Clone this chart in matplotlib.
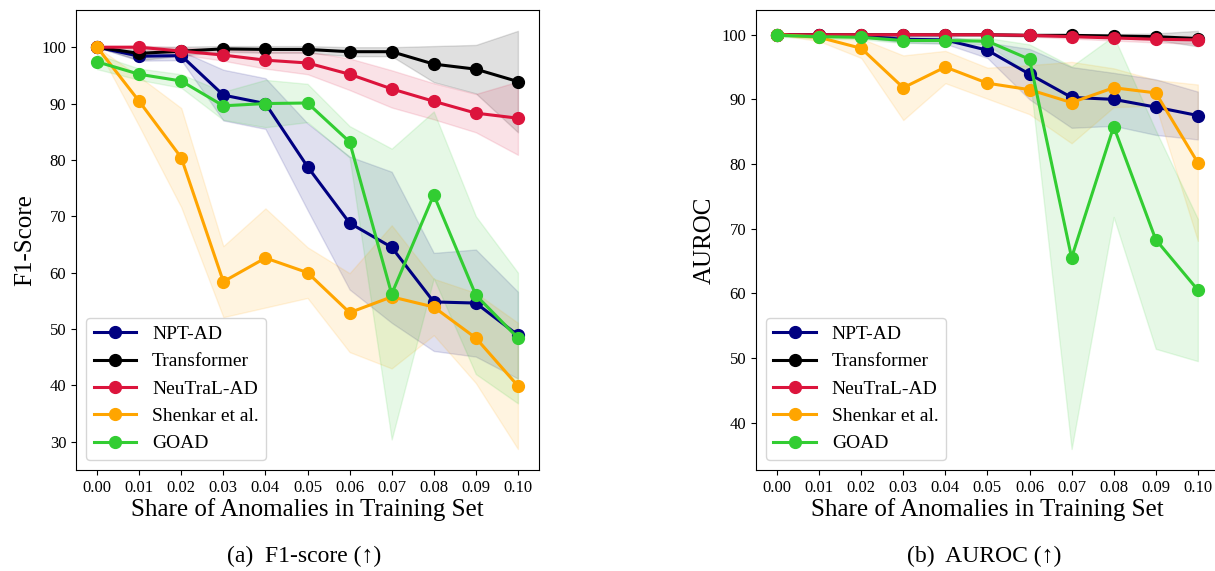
import numpy as np
import matplotlib
matplotlib.use("Agg")
import matplotlib.pyplot as plt

plt.rcParams['font.family'] = ['Liberation Serif', 'DejaVu Serif']

share = [0.00, 0.01, 0.02, 0.03, 0.04, 0.05, 0.06, 0.07, 0.08, 0.09, 0.10]
tick_labels = ["0.00", "0.01", "0.02", "0.03", "0.04", "0.05", "0.06", "0.07", "0.08", "0.09", "0.10"]
methods = ["NPT-AD", "Transformer", "NeuTraL-AD", "Shenkar et al.", "GOAD"]
colors = ["navy", "black", "crimson", "orange", "limegreen"]

# F1-score (mean, std)
npt_f1 = [100.0, 98.4, 98.5, 91.5, 90.0, 78.8, 68.8, 64.5, 54.8, 54.6, 48.9]
npt_f1_std = [0.0, 0.8, 0.8, 4.5, 4.5, 7.7, 11.8, 13.4, 8.7, 9.5, 7.7]
trf_f1 = [100.0, 98.9, 99.3, 99.7, 99.6, 99.6, 99.2, 99.2, 97.0, 96.1, 93.9]
trf_f1_std = [0.0, 1.2, 0.8, 0.5, 0.6, 0.6, 0.8, 0.8, 3.2, 4.3, 9.0]
neu_f1 = [100.0, 100.0, 99.3, 98.6, 97.7, 97.2, 95.2, 92.6, 90.4, 88.3, 87.4]
neu_f1_std = [0.0, 0.3, 0.6, 1.0, 1.5, 2.0, 2.8, 3.3, 3.2, 3.4, 6.5]
shk_f1 = [100.0, 90.4, 80.4, 58.4, 62.6, 60.0, 52.9, 55.7, 53.9, 48.4, 39.9]
shk_f1_std = [0.0, 4.4, 8.8, 6.3, 8.8, 4.5, 7.0, 12.7, 5.0, 8.0, 11.2]
goad_f1 = [97.4, 95.2, 94.0, 89.6, 90.0, 90.1, 83.2, 56.2, 73.8, 56.0, 48.4]
goad_f1_std = [1.3, 1.0, 1.2, 2.5, 4.2, 3.4, 2.8, 25.8, 14.8, 14.0, 11.6]

# AUROC (mean, std)
npt_au = [100.0, 100.0, 99.8, 99.3, 99.2, 97.6, 93.9, 90.3, 90.0, 88.8, 87.5]
npt_au_std = [0.0, 0.1, 0.2, 0.5, 0.6, 1.2, 3.9, 4.7, 4.1, 4.3, 3.7]
trf_au = [100.0, 100.0, 100.0, 100.0, 100.0, 100.0, 99.9, 99.9, 99.8, 99.7, 99.4]
trf_au_std = [0.0, 0.1, 0.1, 0.1, 0.1, 0.1, 0.2, 0.2, 0.3, 0.5, 1.2]
neu_au = [100.0, 100.0, 100.0, 100.0, 100.0, 100.0, 99.9, 99.7, 99.5, 99.3, 99.2]
neu_au_std = [0.0, 0.1, 0.1, 0.1, 0.1, 0.1, 0.2, 0.3, 0.4, 0.5, 0.6]
shk_au = [100.0, 99.6, 97.9, 91.8, 95.0, 92.5, 91.5, 89.5, 91.8, 91.0, 80.2]
shk_au_std = [0.0, 0.6, 1.5, 5.0, 2.5, 2.4, 3.8, 6.3, 3.0, 2.0, 12.1]
goad_au = [99.9, 99.7, 99.6, 99.1, 99.1, 99.0, 96.2, 65.5, 85.8, 68.3, 60.5]
goad_au_std = [0.2, 0.3, 0.3, 0.4, 0.4, 0.5, 2.3, 29.6, 14.0, 16.9, 11.0]

f1_means = [npt_f1, trf_f1, neu_f1, shk_f1, goad_f1]
f1_stds = [npt_f1_std, trf_f1_std, neu_f1_std, shk_f1_std, goad_f1_std]
au_means = [npt_au, trf_au, neu_au, shk_au, goad_au]
au_stds = [npt_au_std, trf_au_std, neu_au_std, shk_au_std, goad_au_std]

fig = plt.figure(figsize=(12.15, 5.71), dpi=100)
ax1 = fig.add_axes([0.0626, 0.177, 0.381, 0.8056])
ax2 = fig.add_axes([0.6222, 0.177, 0.381, 0.8056])


def draw(ax, means, stds, ylabel, caption):
    x = np.array(share)
    for name, c, m, s in zip(methods, colors, means, stds):
        m = np.array(m)
        s = np.array(s)
        ax.fill_between(x, m - s, m + s, color=c, alpha=0.12)
        ax.plot(x, m, '-o', color=c, lw=2.2, ms=8.5, label=name)
    ax.set_xticks(share)
    ax.set_xticklabels(tick_labels)
    ax.tick_params(labelsize=12)
    ax.set_xlabel("Share of Anomalies in Training Set", fontsize=18, labelpad=2)
    ax.set_ylabel(ylabel, fontsize=18)
    ax.legend(loc='lower left', fontsize=14, handlelength=2.2)
    pos = ax.get_position()
    fig.text((pos.x0 + pos.x1) / 2 - 0.003, 0.025, caption, ha='center', va='center', fontsize=17)


draw(ax1, f1_means, f1_stds, "F1-Score", "(a)  F1-score (\u2191)")
draw(ax2, au_means, au_stds, "AUROC", "(b)  AUROC (\u2191)")

fig.savefig("out.png", dpi=100)
